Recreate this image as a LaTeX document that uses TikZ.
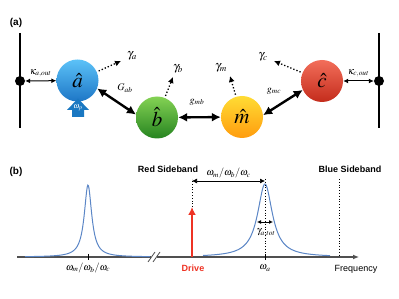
\documentclass[tikz,border=0pt]{standalone}
\usepackage{mathptmx}
\usepackage{fontspec}
\setsansfont{Liberation Sans}
\usetikzlibrary{arrows.meta}

\definecolor{axisgray}{HTML}{505050}
\definecolor{peakblue}{HTML}{5B86C6}
\definecolor{drivered}{HTML}{EE3324}
\definecolor{pumpblue}{HTML}{1A78C2}
\definecolor{aTop}{HTML}{5CC2F8}  \definecolor{aBot}{HTML}{1D76C6}
\definecolor{bTop}{HTML}{84D254}  \definecolor{bBot}{HTML}{268420}
\definecolor{mTop}{HTML}{FFDC34}  \definecolor{mBot}{HTML}{FF9C0E}
\definecolor{cTop}{HTML}{F26E5A}  \definecolor{cBot}{HTML}{C42C1C}

\begin{document}
\begin{tikzpicture}[x=1pt,y=-1pt,font=\normalsize,
  ball/.style={circle,minimum size=42pt,inner sep=0pt,font=\fontsize{21}{24}\selectfont},
  coup/.style={{Latex[length=9pt,width=9pt]}-{Latex[length=9pt,width=9pt]},line width=2.4pt},
  loss/.style={-{Latex[length=6pt,width=6pt]},dotted,line width=1.3pt,shorten <=2pt},
  port/.style={{Latex[length=5pt,width=5pt]}-{Latex[length=5pt,width=5pt]},line width=1pt},
  junc/.style={circle,fill=black,inner sep=0pt,minimum size=10pt},
  tag/.style={font=\sffamily\bfseries\small},
  guide/.style={dotted,line width=0.8pt},
  peak/.style={peakblue,line width=1pt}]
\useasboundingbox (0,0) rectangle (399,299);

% ---- (a) four coupled modes between two ports
\node[tag,font=\sffamily\bfseries] (tagA) at (16,23) {(a)};
\coordinate (lt) at (20,33); \coordinate (lb) at (20,128);
\coordinate (rt) at (379,33); \coordinate (rb) at (379,128);
\draw[line width=1.6pt] (lt) -- (lb);
\draw[line width=1.6pt] (rt) -- (rb);
\node[junc] (ldot) at (20,81) {};
\node[junc] (rdot) at (379,81) {};

\node[ball,top color=aTop,bottom color=aBot] (a) at (77.5,80.5) {$\hat{a}$};
\node[ball,top color=bTop,bottom color=bBot] (b) at (157,117.5) {$\hat{b}$};
\node[ball,top color=mTop,bottom color=mBot] (m) at (242,117) {$\hat{m}$};
\node[ball,top color=cTop,bottom color=cBot] (c) at (322,81) {$\hat{c}$};

% pump on a
\fill[pumpblue] (72,117) -- (72,110) -- (67,110) -- (78,98.5) -- (89,110) -- (84,110) -- (84,117) -- cycle;
\node[text=white,font=\footnotesize] (wp) at (78,107.5) {$\omega_p$};

% ports
\draw[port] (ldot) -- (a) node[midway,above=0pt] (kA) {$\kappa_{a,out}$};
\draw[port] (c) -- (rdot) node[midway,above=0pt] (kC) {$\kappa_{c,out}$};

% couplings
\draw[coup] (a.-22) -- (b.172);
\draw[coup] (b) -- (m);
\draw[coup] (m.5) -- (c.205);
\node (Gab) at (125,88) {$G_{ab}$};
\node (gmb) at (197,102) {$g_{mb}$};
\node (gmc) at (274,91) {$g_{mc}$};

% losses
\coordinate (la) at (121,61);
\coordinate (lbb) at (173,77);
\coordinate (lm) at (230,76);
\coordinate (lc) at (274,61);
\draw[loss] (a) -- (la);
\draw[loss] (b) -- (lbb);
\draw[loss] (m) -- (lm);
\draw[loss] (c) -- (lc);
\node[font=\large] (ya) at (132,56) {$\gamma_a$};
\node[font=\large] (yb) at (178,69) {$\gamma_b$};
\node[font=\large] (ym) at (221,68) {$\gamma_m$};
\node[font=\large] (yc) at (263,57) {$\gamma_c$};

% ---- (b) spectrum
\node[tag,font=\sffamily\bfseries] (tagB) at (16,172) {(b)};
\coordinate (ax0) at (17,257); \coordinate (ax1) at (359,257);
\draw[axisgray,line width=1.5pt,-{Latex[length=6pt,width=5pt]}] (ax0) -- (ax1);
\draw[white,line width=2.5pt] (151,257) -- (157,257);
\draw[axisgray,line width=0.8pt] (148,262) -- (155,252);
\draw[axisgray,line width=0.8pt] (153,262) -- (160,252);

\draw[peak] plot[domain=25:150,samples=200] (\x,{257-72/(1+((\x-88)/4.5)^2)});
\draw[peak] plot[domain=203:330,samples=200] (\x,{257-73/(1+((\x-265)/9)^2)});

\draw[line width=1pt] (88,254) -- (88,260);
\draw[line width=1pt] (265,254) -- (265,260);

% drive and sidebands
\coordinate (dr0) at (192,257); \coordinate (dr1) at (192,207);
\coordinate (rs) at (192,179);
\draw[drivered,line width=2pt,-{Latex[length=8pt,width=8pt]}] (dr0) -- (dr1);
\draw[guide] (dr1) -- (rs);
\coordinate (pa) at (265,179); \coordinate (pb) at (265,257);
\draw[guide] (pa) -- (pb);
\coordinate (bs0) at (339,179); \coordinate (bs1) at (339,257);
\draw[guide] (bs0) -- (bs1);
\coordinate (om0) at (192,181); \coordinate (om1) at (265,181);
\draw[port,line width=0.7pt] (om0) -- (om1) node[midway,above=-1pt] (wmix) {$\omega_m/\omega_b/\omega_c$};
\coordinate (wd0) at (257,222); \coordinate (wd1) at (273,222);
\draw[{Latex[length=4pt,width=4pt]}-{Latex[length=4pt,width=4pt]},line width=0.8pt] (wd0) -- (wd1);
\node (ytot) at (266,233) {$\gamma_{a,tot}$};

\node[tag] (redS) at (168,169) {Red Sideband};
\node[tag] (blueS) at (350,169) {Blue Sideband};
\node (wl) at (88,268) {$\omega_m/\omega_b/\omega_c$};
\node[tag,text=drivered] (drv) at (193,268) {Drive};
\node (wa) at (265,268) {$\omega_a$};
\node[font=\sffamily\small] (frq) at (356,269) {Frequency};
\end{tikzpicture}
\end{document}
